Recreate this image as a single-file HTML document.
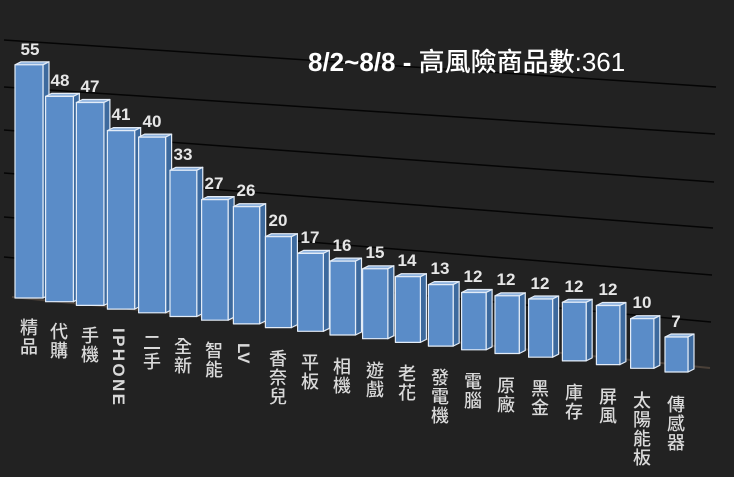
<!DOCTYPE html>
<html><head><meta charset="utf-8"><style>
html,body{margin:0;padding:0;background:#222222;}
svg{display:block;}
.v{font-family:"Liberation Sans","Noto Sans CJK TC",sans-serif;font-weight:bold;font-size:17px;fill:#e6e6e6;text-anchor:middle;}
.c{font-family:"Noto Sans CJK TC",sans-serif;font-size:18px;font-weight:500;fill:#d9d9d9;text-anchor:middle;}
.r{font-family:"Liberation Sans",sans-serif;font-size:17px;font-weight:bold;fill:#d9d9d9;}
</style></head><body>
<svg width="734" height="477" viewBox="0 0 734 477" xmlns="http://www.w3.org/2000/svg">
<rect width="734" height="477" fill="#222222"/>
<g stroke="#050505" stroke-width="1.5">
<line x1="4" y1="40" x2="716" y2="87"/>
<line x1="4" y1="87" x2="715" y2="134"/>
<line x1="4" y1="130" x2="714" y2="182"/>
<line x1="4" y1="173" x2="713" y2="228"/>
<line x1="4" y1="217" x2="712" y2="275"/>
<line x1="4" y1="257" x2="711" y2="322"/>
</g>
<line x1="12" y1="297" x2="710" y2="368" stroke="#4a4038" stroke-width="2"/>
<text x="308" y="71" style="font-family:'Liberation Sans','Noto Sans CJK TC',sans-serif;font-size:26px;fill:#ffffff;"><tspan font-weight="bold">8/2~8/8 - </tspan><tspan font-family="Noto Sans CJK TC" font-weight="500">高風險商品數</tspan><tspan>:361</tspan></text>
<g stroke="#e3ecf7" stroke-width="1.2" stroke-linejoin="round">
<polygon points="15,64.8 21,61.8 49,61.8 43,64.8" fill="#8db2de"/><polygon points="43,64.8 49,61.8 49,295 43,298" fill="#3d6a9e"/><rect x="15" y="64.8" width="28" height="233.2" fill="#5a8cc8"/>
<polygon points="45.6,96.4 51.6,93.4 79.35,93.4 73.35,96.4" fill="#8db2de"/><polygon points="73.35,96.4 79.35,93.4 79.35,298.7 73.35,301.7" fill="#3d6a9e"/><rect x="45.6" y="96.4" width="27.75" height="205.3" fill="#5a8cc8"/>
<polygon points="76.4,102.5 82.4,99.5 109.9,99.5 103.9,102.5" fill="#8db2de"/><polygon points="103.9,102.5 109.9,99.5 109.9,302.4 103.9,305.4" fill="#3d6a9e"/><rect x="76.4" y="102.5" width="27.5" height="202.9" fill="#5a8cc8"/>
<polygon points="107.4,130.6 113.4,127.6 140.65,127.6 134.65,130.6" fill="#8db2de"/><polygon points="134.65,130.6 140.65,127.6 140.65,306.1 134.65,309.1" fill="#3d6a9e"/><rect x="107.4" y="130.6" width="27.25" height="178.5" fill="#5a8cc8"/>
<polygon points="138.6,137.1 144.6,134.1 171.6,134.1 165.6,137.1" fill="#8db2de"/><polygon points="165.6,137.1 171.6,134.1 171.6,309.8 165.6,312.8" fill="#3d6a9e"/><rect x="138.6" y="137.1" width="27" height="175.7" fill="#5a8cc8"/>
<polygon points="170,170.3 176,167.3 202.75,167.3 196.75,170.3" fill="#8db2de"/><polygon points="196.75,170.3 202.75,167.3 202.75,313.5 196.75,316.5" fill="#3d6a9e"/><rect x="170" y="170.3" width="26.75" height="146.2" fill="#5a8cc8"/>
<polygon points="201.6,199.6 207.6,196.6 234.1,196.6 228.1,199.6" fill="#8db2de"/><polygon points="228.1,199.6 234.1,196.6 234.1,317.2 228.1,320.2" fill="#3d6a9e"/><rect x="201.6" y="199.6" width="26.5" height="120.6" fill="#5a8cc8"/>
<polygon points="233.4,206.7 239.4,203.7 265.65,203.7 259.65,206.7" fill="#8db2de"/><polygon points="259.65,206.7 265.65,203.7 265.65,320.9 259.65,323.9" fill="#3d6a9e"/><rect x="233.4" y="206.7" width="26.25" height="117.2" fill="#5a8cc8"/>
<polygon points="265.4,236.7 271.4,233.7 297.4,233.7 291.4,236.7" fill="#8db2de"/><polygon points="291.4,236.7 297.4,233.7 297.4,324.6 291.4,327.6" fill="#3d6a9e"/><rect x="265.4" y="236.7" width="26" height="90.9" fill="#5a8cc8"/>
<polygon points="297.6,253.4 303.6,250.4 329.35,250.4 323.35,253.4" fill="#8db2de"/><polygon points="323.35,253.4 329.35,250.4 329.35,328.3 323.35,331.3" fill="#3d6a9e"/><rect x="297.6" y="253.4" width="25.75" height="77.9" fill="#5a8cc8"/>
<polygon points="330,261.1 336,258.1 361.5,258.1 355.5,261.1" fill="#8db2de"/><polygon points="355.5,261.1 361.5,258.1 361.5,332 355.5,335" fill="#3d6a9e"/><rect x="330" y="261.1" width="25.5" height="73.9" fill="#5a8cc8"/>
<polygon points="362.6,268.8 368.6,265.8 393.85,265.8 387.85,268.8" fill="#8db2de"/><polygon points="387.85,268.8 393.85,265.8 393.85,335.7 387.85,338.7" fill="#3d6a9e"/><rect x="362.6" y="268.8" width="25.25" height="69.9" fill="#5a8cc8"/>
<polygon points="395.4,276.7 401.4,273.7 426.4,273.7 420.4,276.7" fill="#8db2de"/><polygon points="420.4,276.7 426.4,273.7 426.4,339.4 420.4,342.4" fill="#3d6a9e"/><rect x="395.4" y="276.7" width="25" height="65.7" fill="#5a8cc8"/>
<polygon points="428.4,284.6 434.4,281.6 459.15,281.6 453.15,284.6" fill="#8db2de"/><polygon points="453.15,284.6 459.15,281.6 459.15,343.1 453.15,346.1" fill="#3d6a9e"/><rect x="428.4" y="284.6" width="24.75" height="61.5" fill="#5a8cc8"/>
<polygon points="461.6,292.5 467.6,289.5 492.1,289.5 486.1,292.5" fill="#8db2de"/><polygon points="486.1,292.5 492.1,289.5 492.1,346.8 486.1,349.8" fill="#3d6a9e"/><rect x="461.6" y="292.5" width="24.5" height="57.3" fill="#5a8cc8"/>
<polygon points="495,295.8 501,292.8 525.25,292.8 519.25,295.8" fill="#8db2de"/><polygon points="519.25,295.8 525.25,292.8 525.25,350.5 519.25,353.5" fill="#3d6a9e"/><rect x="495" y="295.8" width="24.25" height="57.7" fill="#5a8cc8"/>
<polygon points="528.6,299 534.6,296 558.6,296 552.6,299" fill="#8db2de"/><polygon points="552.6,299 558.6,296 558.6,354.2 552.6,357.2" fill="#3d6a9e"/><rect x="528.6" y="299" width="24" height="58.2" fill="#5a8cc8"/>
<polygon points="562.4,302.3 568.4,299.3 592.15,299.3 586.15,302.3" fill="#8db2de"/><polygon points="586.15,302.3 592.15,299.3 592.15,357.9 586.15,360.9" fill="#3d6a9e"/><rect x="562.4" y="302.3" width="23.75" height="58.6" fill="#5a8cc8"/>
<polygon points="596.4,305.5 602.4,302.5 625.9,302.5 619.9,305.5" fill="#8db2de"/><polygon points="619.9,305.5 625.9,302.5 625.9,361.6 619.9,364.6" fill="#3d6a9e"/><rect x="596.4" y="305.5" width="23.5" height="59.1" fill="#5a8cc8"/>
<polygon points="630.6,318.7 636.6,315.7 659.85,315.7 653.85,318.7" fill="#8db2de"/><polygon points="653.85,318.7 659.85,315.7 659.85,365.3 653.85,368.3" fill="#3d6a9e"/><rect x="630.6" y="318.7" width="23.25" height="49.6" fill="#5a8cc8"/>
<polygon points="665,337 671,334 694,334 688,337" fill="#8db2de"/><polygon points="688,337 694,334 694,369 688,372" fill="#3d6a9e"/><rect x="665" y="337" width="23" height="35" fill="#5a8cc8"/>
</g>
<g class="v">
<text x="30" y="55">55</text>
<text x="60" y="86">48</text>
<text x="90" y="92">47</text>
<text x="121" y="120">41</text>
<text x="152" y="127">40</text>
<text x="183" y="160">33</text>
<text x="214" y="189">27</text>
<text x="246" y="196">26</text>
<text x="278" y="226">20</text>
<text x="310" y="243">17</text>
<text x="342" y="251">16</text>
<text x="375" y="258">15</text>
<text x="407" y="266">14</text>
<text x="440" y="274">13</text>
<text x="473" y="282">12</text>
<text x="506" y="285">12</text>
<text x="540" y="289">12</text>
<text x="574" y="292">12</text>
<text x="608" y="295">12</text>
<text x="642" y="308">10</text>
<text x="676" y="327">7</text>
</g>
<g class="c">
<text x="29" y="334">精</text><text x="29" y="353">品</text>
<text x="59" y="338">代</text><text x="59" y="357">購</text>
<text x="90" y="342">手</text><text x="90" y="361">機</text>
<text x="152" y="349">二</text><text x="152" y="368">手</text>
<text x="183" y="353">全</text><text x="183" y="372">新</text>
<text x="214" y="357">智</text><text x="214" y="376">能</text>
<text x="278" y="365">香</text><text x="278" y="384">奈</text><text x="278" y="403">兒</text>
<text x="310" y="369">平</text><text x="310" y="388">板</text>
<text x="342" y="373">相</text><text x="342" y="392">機</text>
<text x="375" y="377">遊</text><text x="375" y="396">戲</text>
<text x="407" y="380">老</text><text x="407" y="399">花</text>
<text x="440" y="384">發</text><text x="440" y="403">電</text><text x="440" y="422">機</text>
<text x="473" y="388">電</text><text x="473" y="407">腦</text>
<text x="506" y="392">原</text><text x="506" y="411">廠</text>
<text x="540" y="395">黑</text><text x="540" y="414">金</text>
<text x="574" y="399">庫</text><text x="574" y="418">存</text>
<text x="608" y="403">屏</text><text x="608" y="422">風</text>
<text x="642" y="407">太</text><text x="642" y="426">陽</text><text x="642" y="445">能</text><text x="642" y="464">板</text>
<text x="676" y="411">傳</text><text x="676" y="430">感</text><text x="676" y="449">器</text>
</g>
<text class="r" transform="translate(113,328) rotate(90)" textLength="77">IPHONE</text>
<text class="r" transform="translate(238,343) rotate(90)">LV</text>
</svg>
</body></html>
